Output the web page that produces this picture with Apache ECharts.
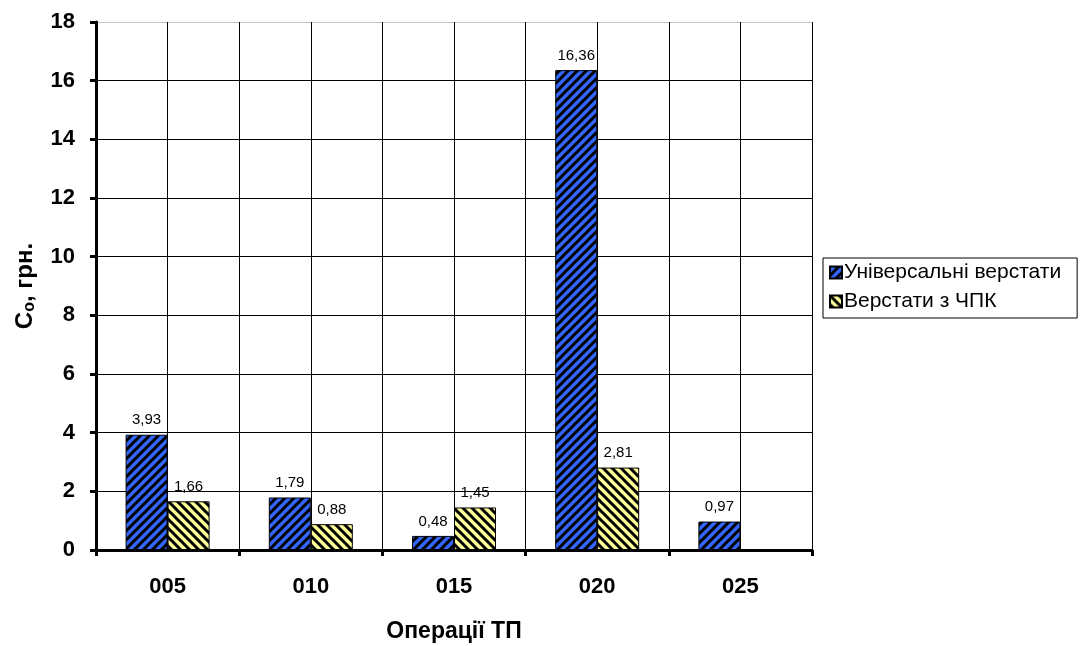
<!DOCTYPE html>
<html>
<head>
<meta charset="utf-8">
<script src="https://cdn.jsdelivr.net/npm/echarts@6/dist/echarts.min.js"></script>
<style>
  html, body { margin: 0; padding: 0; background: #fff; }
  #chart { width: 1080px; height: 646px; }
</style>
</head>
<body>
<div id="chart"></div>
<script>
// Operations of the technological process and costs per operation
const categories = ['005', '010', '015', '020', '025'];
const universal = [3.93, 1.79, 0.48, 16.36, 0.97];
const cnc = [1.66, 0.88, 1.45, 2.81, null];
const seriesNames = ['Універсальні верстати', 'Верстати з ЧПК'];
const yTicks = [0, 2, 4, 6, 8, 10, 12, 14, 16, 18];

// Hatched fill: background colour with black diagonal stripes
function hatch(bg, forward) {
  const s = 9;
  const c = document.createElement('canvas');
  c.width = s; c.height = s;
  const ctx = c.getContext('2d');
  ctx.fillStyle = bg;
  ctx.fillRect(0, 0, s, s);
  ctx.strokeStyle = '#000';
  ctx.lineWidth = 3;
  ctx.beginPath();
  if (forward) {
    ctx.moveTo(-1, s + 1); ctx.lineTo(s + 1, -1);
    ctx.moveTo(-2, 2); ctx.lineTo(2, -2);
    ctx.moveTo(s - 2, s + 2); ctx.lineTo(s + 2, s - 2);
  } else {
    ctx.moveTo(-1, -1); ctx.lineTo(s + 1, s + 1);
    ctx.moveTo(s - 2, -2); ctx.lineTo(s + 2, 2);
    ctx.moveTo(-2, s - 2); ctx.lineTo(2, s + 2);
  }
  ctx.stroke();
  return { image: c, repeat: 'repeat' };
}

const fmt = p => p.value == null ? '' : p.value.toFixed(2).replace('.', ',');
const font = 'Arial, "Liberation Sans", sans-serif';

const chart = echarts.init(document.getElementById('chart'), null, { renderer: 'canvas' });
chart.setOption({
  backgroundColor: '#fff',
  animation: false,
  grid: { left: 96, top: 22, width: 716, height: 528, containLabel: false, outerBoundsMode: 'none' },
  legend: {
    orient: 'vertical',
    left: 823,
    top: 258,
    padding: [4, 16, 6, 6],
    borderColor: '#000',
    borderWidth: 1,
    itemWidth: 12,
    itemHeight: 12,
    itemGap: 8,
    icon: 'rect',
    textStyle: { fontFamily: font, fontSize: 21, color: '#000', padding: [0, 0, 0, -3] },
    data: seriesNames
  },
  xAxis: [
    {
      type: 'category',
      data: categories,
      boundaryGap: true,
      name: 'Операції ТП',
      nameLocation: 'middle',
      nameGap: 70,
      nameTextStyle: { fontFamily: font, fontSize: 23, fontWeight: 'bold', color: '#000' },
      axisLine: { lineStyle: { color: '#000', width: 3 } },
      axisTick: { show: true, length: 6, lineStyle: { color: '#000', width: 3 } },
      axisLabel: { fontFamily: font, fontSize: 22, fontWeight: 'bold', color: '#000', margin: 26 },
      splitLine: { show: false }
    },
    {
      // half-category gridlines
      type: 'value',
      min: 0,
      max: 10,
      interval: 1,
      position: 'top',
      axisLine: { show: false },
      axisTick: { show: false },
      axisLabel: { show: false },
      splitLine: { show: true, lineStyle: { color: '#000', width: 1 } }
    }
  ],
  yAxis: {
    type: 'value',
    min: 0,
    max: 18,
    interval: 2,
    name: '{a|C}{b|o}{a|, грн.}',
    nameLocation: 'middle',
    nameGap: 58,
    nameRotate: 90,
    nameTextStyle: {
      rich: {
        a: { fontFamily: font, fontSize: 24, fontWeight: 'bold', color: '#000' },
        b: { fontFamily: font, fontSize: 16, fontWeight: 'bold', color: '#000', padding: [10, 0, 0, 0] }
      }
    },
    axisLine: { show: true, lineStyle: { color: '#000', width: 3 } },
    axisTick: { show: true, length: 6, lineStyle: { color: '#000', width: 3 } },
    axisLabel: {
      fontFamily: font, fontSize: 22, fontWeight: 'bold', color: '#000', margin: 21,
      formatter: v => yTicks.includes(v) ? String(v) : ''
    },
    splitLine: {
      show: true,
      lineStyle: { color: ['#000', '#000', '#000', '#000', '#000', '#000', '#000', '#000', '#000', '#c8c8c8'], width: 1 }
    }
  },
  series: [
    {
      name: seriesNames[0],
      type: 'bar',
      data: universal,
      barWidth: 42,
      barGap: '0%',
      itemStyle: { color: hatch('#3366ff', true), borderColor: '#000', borderWidth: 1 },
      label: { show: true, position: 'top', distance: 7, formatter: fmt, fontFamily: font, fontSize: 15, color: '#000' }
    },
    {
      name: seriesNames[1],
      type: 'bar',
      data: cnc,
      barWidth: 42,
      barGap: '0%',
      itemStyle: { color: hatch('#ffff99', false), borderColor: '#000', borderWidth: 1 },
      label: { show: true, position: 'top', distance: 7, formatter: fmt, fontFamily: font, fontSize: 15, color: '#000' }
    }
  ]
});
</script>
</body>
</html>
